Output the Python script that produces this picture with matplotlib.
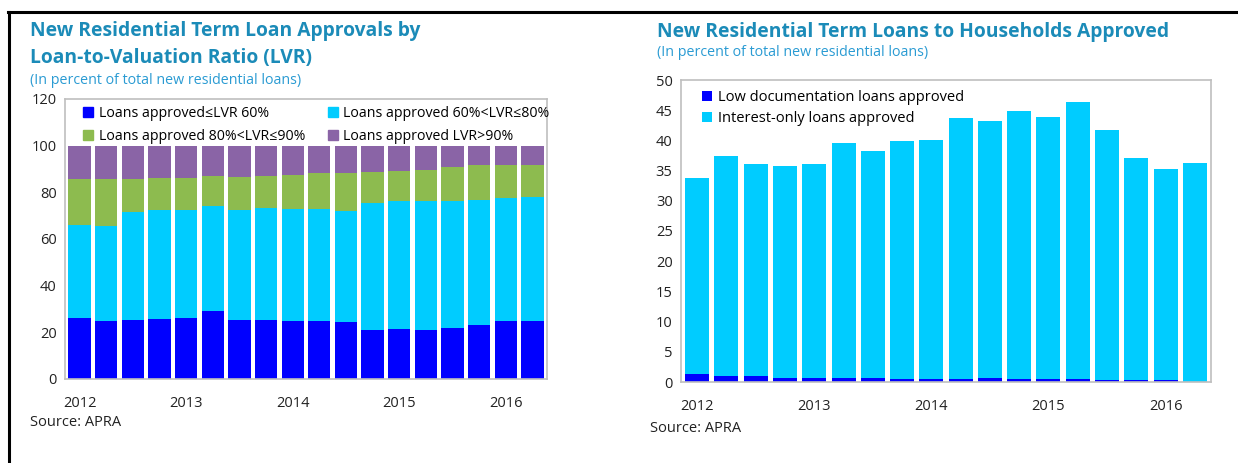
import matplotlib
matplotlib.use("Agg")
import matplotlib.pyplot as plt
from matplotlib.lines import Line2D
from matplotlib.patches import Patch
import numpy as np

plt.rcParams['font.family'] = ['Open Sans', 'DejaVu Sans']

# quarters 2012Q1 .. 2016Q2
n_q = 18
year_labels = ['2012', '2013', '2014', '2015', '2016']
year_pos = [0, 4, 8, 12, 16]

# left chart: share of loans by LVR band
lvr_le60 = [26.3, 24.7, 25.4, 25.7, 26.3, 29.0, 25.4, 25.1, 24.7, 24.8, 24.4, 21.2, 21.6, 21.2, 22.0, 23.1, 24.7, 24.8]
lvr_60_80 = [39.6, 40.9, 46.2, 46.7, 46.1, 45.1, 47.0, 48.2, 48.0, 48.2, 47.7, 54.1, 54.5, 54.9, 54.4, 53.6, 52.9, 53.3]
lvr_80_90 = [20.0, 20.3, 14.3, 13.7, 13.7, 12.9, 14.0, 13.7, 14.6, 15.4, 16.0, 13.4, 12.9, 13.5, 14.3, 14.9, 14.0, 13.8]
lvr_gt90 = [14.1, 14.1, 14.1, 13.9, 13.9, 13.0, 13.6, 13.0, 12.7, 11.6, 11.9, 11.3, 11.0, 10.4, 9.3, 8.4, 8.4, 8.1]

# right chart
low_doc = [1.33, 1.0, 0.95, 0.67, 0.67, 0.67, 0.67, 0.5, 0.5, 0.5, 0.67, 0.5, 0.5, 0.45, 0.4, 0.4, 0.4, 0.0]
interest_only = [32.5, 36.4, 35.15, 35.1, 35.5, 38.9, 37.6, 39.45, 39.5, 43.2, 42.5, 44.4, 43.3, 45.85, 41.3, 36.7, 34.9, 36.3]

c_blue = '#0000FF'
c_cyan = '#00CCFF'
c_green = '#8DBB4F'
c_purple = '#8A64A6'
title_col = '#1B8BB8'
sub_col = '#2A9BD3'
spine_col = '#BFBFBF'

W, H = 1238, 463
fig = plt.figure(figsize=(W / 100, H / 100), dpi=100)

def fx(px):
    return px / W

def fy(py):
    return 1 - py / H

x = np.arange(n_q)

def style_axes(ax):
    for s in ax.spines.values():
        s.set_color(spine_col)
        s.set_linewidth(1.2)
    ax.tick_params(length=0, labelsize=10.5, colors='#222222', pad=6)
    ax.set_xticks(year_pos)
    ax.set_xticklabels(year_labels)
    ax.tick_params(axis='x', pad=12)
    ax.set_xlim(-0.55, n_q - 0.45)

# ---- left chart
ax1 = fig.add_axes([fx(65), fy(379), fx(547 - 65), (379 - 99) / H])
series = [lvr_le60, lvr_60_80, lvr_80_90, lvr_gt90]
cols = [c_blue, c_cyan, c_green, c_purple]
labels = ['Loans approved\u2264LVR 60%', 'Loans approved 60%<LVR\u226480%',
          'Loans approved 80%<LVR\u226490%', 'Loans approved LVR>90%']
bottom = np.zeros(n_q)
for s, c in zip(series, cols):
    ax1.bar(x, s, bottom=bottom, width=0.84, color=c)
    bottom += np.array(s)
ax1.set_ylim(0, 120)
ax1.set_yticks(range(0, 121, 20))
style_axes(ax1)
# legend fills column-wise, so reorder to read row-wise
order = [0, 2, 1, 3]
handles = [Patch(color=cols[i]) for i in order]
ax1.legend(handles, [labels[i] for i in order], ncol=2, loc='upper left',
           bbox_to_anchor=(0.02, 1.005), frameon=False, fontsize=10.2,
           handlelength=0.7, handleheight=0.7, handletextpad=0.4, columnspacing=1.6,
           labelspacing=0.55, borderaxespad=0.2)

# ---- right chart
ax2 = fig.add_axes([fx(681), fy(382), fx(1211 - 681), (382 - 80) / H])
ax2.bar(x, low_doc, width=0.82, color=c_blue, label='Low documentation loans approved')
ax2.bar(x, interest_only, bottom=low_doc, width=0.82, color=c_cyan, label='Interest-only loans approved')
ax2.set_ylim(0, 50)
ax2.set_yticks(range(0, 51, 5))
style_axes(ax2)
ax2.legend(loc='upper left', bbox_to_anchor=(0.02, 1.0), frameon=False, fontsize=10.5,
           handlelength=0.7, handleheight=0.7, handletextpad=0.4, labelspacing=0.4,
           borderaxespad=0.3)

# ---- titles and notes
fig.text(fx(30), fy(31), 'New Residential Term Loan Approvals by', color=title_col,
         fontsize=13.9, fontweight='bold', va='center')
fig.text(fx(30), fy(58), 'Loan-to-Valuation Ratio (LVR)', color=title_col,
         fontsize=13.9, fontweight='bold', va='center')
fig.text(fx(30), fy(80), '(In percent of total new residential loans)', color=sub_col,
         fontsize=10.3, va='center')
fig.text(fx(30), fy(422), 'Source: APRA', fontsize=10.5, va='center', color='#222222')

fig.text(fx(657), fy(32), 'New Residential Term Loans to Households Approved', color=title_col,
         fontsize=13.9, fontweight='bold', va='center')
fig.text(fx(657), fy(53), '(In percent of total new residential loans)', color=sub_col,
         fontsize=10.3, va='center')
fig.text(fx(650), fy(428), 'Source: APRA', fontsize=10.5, va='center', color='#222222')

# outer frame (top and left)
fig.add_artist(Line2D([fx(8), 1], [fy(12), fy(12)], color='black', lw=2.2))
fig.add_artist(Line2D([fx(9), fx(9)], [0, fy(12)], color='black', lw=2.2))

fig.savefig('out.png', dpi=100)
